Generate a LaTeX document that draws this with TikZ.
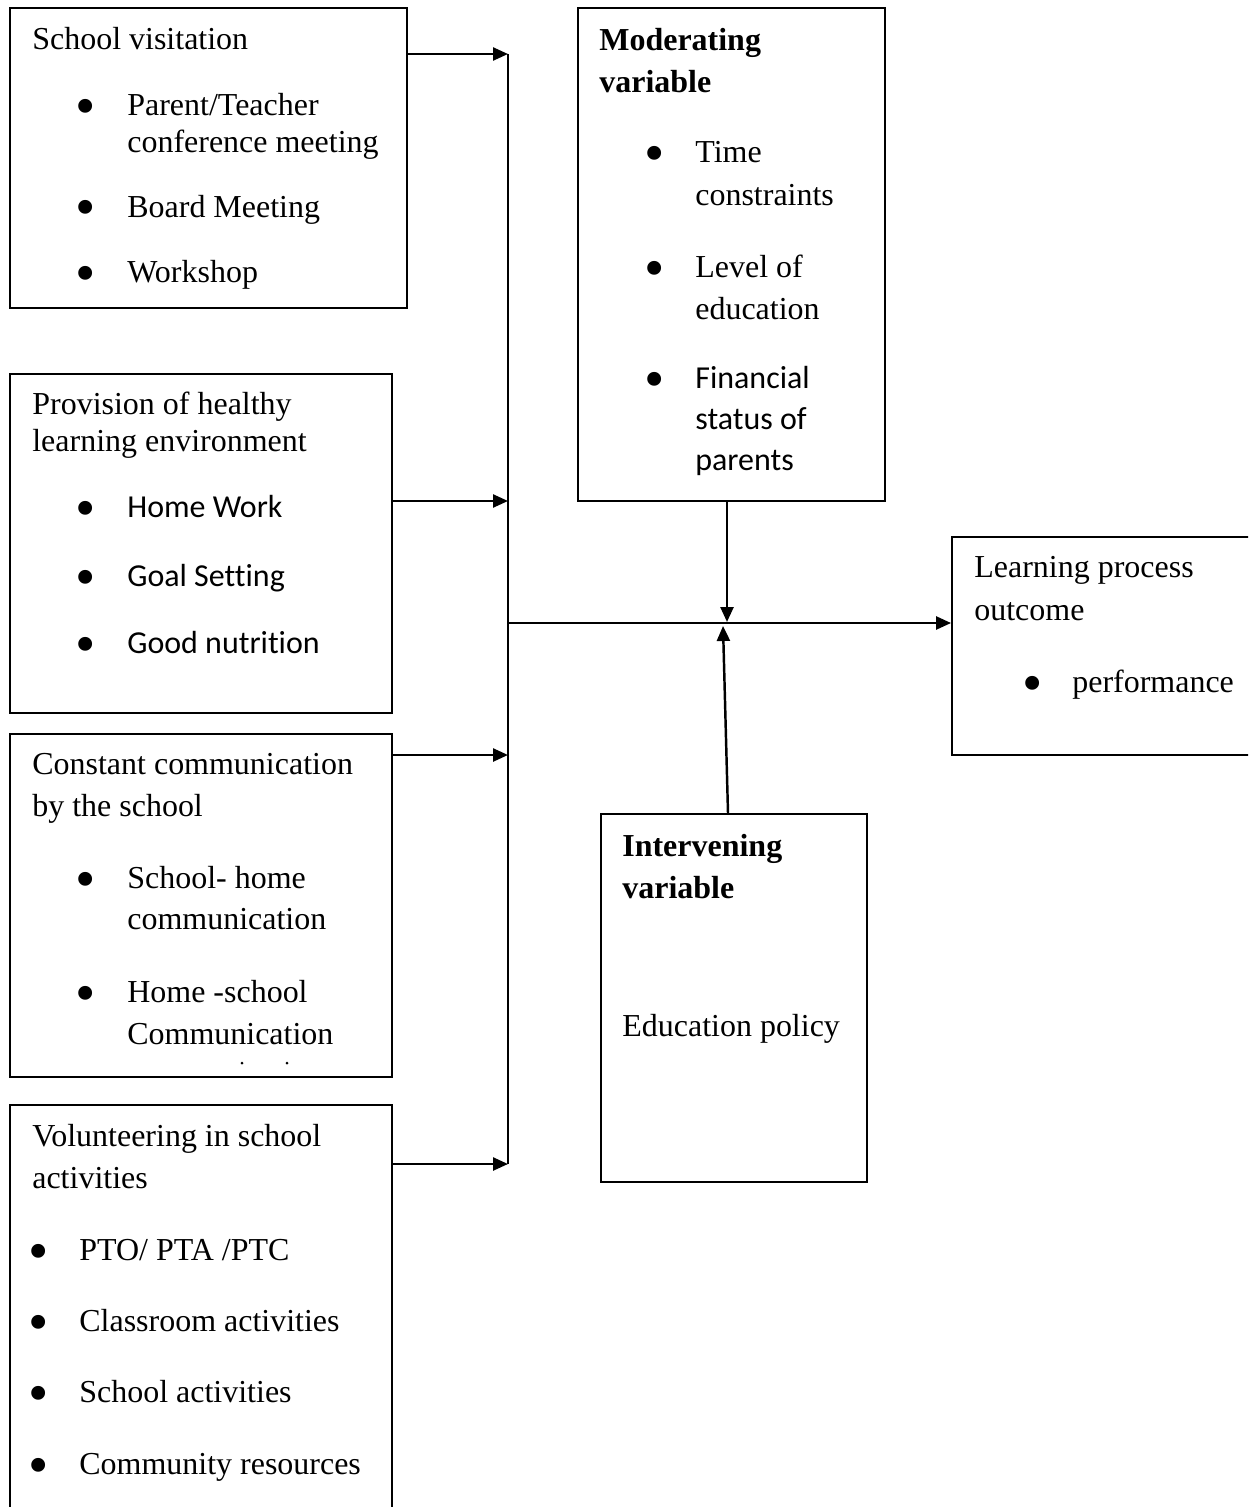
\documentclass[tikz,border=0pt]{standalone}
\usepackage{fontspec}
\setmainfont{Liberation Serif}
\newfontfamily\calfont[Ligatures=NoCommon]{Carlito}
\usetikzlibrary{arrows.meta}

\tikzset{
  box/.style={draw, line width=1.1pt, inner sep=0pt},
  txt/.style={anchor=base west, inner sep=0pt, font=\fontsize{18.2pt}{22pt}\selectfont},
  dot/.style={anchor=base, inner sep=0pt, font=\fontsize{33pt}{36pt}\selectfont},
  arr/.style={line width=1.4pt, -{Triangle[length=0.3cm, width=0.26cm]}},
}

\begin{document}
\begin{tikzpicture}[x=0.02cm, y=-0.02cm]
  \useasboundingbox (0,0) rectangle (1248,1507);
  \clip (0,0) rectangle (1248,1507);

  % boxes
  \node[box, minimum width=7.94cm, minimum height=6.0cm] (visit) at (208.5,158) {};
  \node[box, minimum width=7.64cm, minimum height=6.78cm] (health) at (201,543.5) {};
  \node[box, minimum width=7.64cm, minimum height=6.86cm] (comm) at (201,905.5) {};
  \node[box, minimum width=7.64cm, minimum height=8.7cm] (volun) at (201,1322.5) {};
  \node[box, minimum width=6.14cm, minimum height=9.86cm] (moder) at (731.5,254.5) {};
  \node[box, minimum width=5.32cm, minimum height=7.36cm] (interv) at (734,998) {};
  \node[box, minimum width=6.56cm, minimum height=4.36cm] (outcome) at (1116,646) {};

  % school visitation
  \node[txt] (visitT) at (32,50) {School visitation};
  \foreach \y/\t [count=\i] in {116/{Parent/Teacher}, 153/conference meeting, 217/Board Meeting, 282/Workshop}
    \node[txt] (visit\i) at (127,\y) {\t};
  \foreach \y [count=\i] in {116, 217, 282}
    \node[dot] (visitB\i) at (86,\y+10) {•};

  % healthy learning environment
  \node[txt] (healthT1) at (32,414) {Provision of healthy};
  \node[txt] (healthT2) at (32,451) {learning environment};
  \foreach \y/\t [count=\i] in {517/Home Work, 586/Goal Setting, 653/Good nutrition}{
    \node[txt, font=\fontsize{18.2pt}{22pt}\selectfont\calfont] (health\i) at (127,\y) {\t};
    \node[dot] (healthB\i) at (86,\y+10) {•};
  }

  % communication
  \node[txt] (commT1) at (32,774) {Constant communication};
  \node[txt] (commT2) at (32,816) {by the school};
  \foreach \y/\t [count=\i] in {888/School- home, 929/communication, 1002/Home -school, 1044/Communication}
    \node[txt] (comm\i) at (127,\y) {\t};
  \foreach \y [count=\i] in {888, 1002}
    \node[dot] (commB\i) at (86,\y+10) {•};
  \fill (242,1063) circle (0.03cm);
  \fill (287,1063) circle (0.03cm);

  % volunteering
  \node[txt] (volunT1) at (32,1146) {Volunteering in school};
  \node[txt] (volunT2) at (32,1188) {activities};
  \foreach \y/\t [count=\i] in {1260/{PTO/ PTA /PTC}, 1331/Classroom activities, 1402/School activities, 1474/Community resources}{
    \node[txt] (volun\i) at (79,\y) {\t};
    \node[dot] (volunB\i) at (39,\y+10) {•};
  }

  % moderating variable
  \node[txt, font=\fontsize{18.2pt}{22pt}\selectfont\bfseries] (moderT1) at (599,51) {Moderating};
  \node[txt, font=\fontsize{18.2pt}{22pt}\selectfont\bfseries] (moderT2) at (599,93) {variable};
  \foreach \y/\t [count=\i] in {163/Time, 206/constraints, 277/Level of, 319/education}
    \node[txt] (moder\i) at (695,\y) {\t};
  \foreach \y/\t [count=\i] in {388/Financial, 429/status of, 470/parents}
    \node[txt, font=\fontsize{18.2pt}{22pt}\selectfont\calfont] (moderC\i) at (695,\y) {\t};
  \foreach \y [count=\i] in {163, 277, 388}
    \node[dot] (moderB\i) at (655,\y+10) {•};

  % intervening variable
  \node[txt, font=\fontsize{18.2pt}{22pt}\selectfont\bfseries] (intervT1) at (622,856) {Intervening};
  \node[txt, font=\fontsize{18.2pt}{22pt}\selectfont\bfseries] (intervT2) at (622,898) {variable};
  \node[txt] (interv1) at (622,1036) {Education policy};

  % outcome
  \node[txt] (outcomeT1) at (974,577) {Learning process};
  \node[txt] (outcomeT2) at (974,620) {outcome};
  \node[dot] (outcomeB1) at (1033,702) {•};
  \node[txt] (outcome1) at (1072,692) {performance};

  % connectors
  \coordinate (b1) at (508,54);
  \coordinate (b2) at (508,501);
  \coordinate (b3) at (508,755);
  \coordinate (b4) at (508,1164);
  \coordinate (mid) at (508,623);
  \coordinate (top) at (727,622);
  \coordinate (bot) at (723,626);

  \draw[arr] (visit.east |- b1) -- (b1);
  \draw[arr] (health.east |- b2) -- (b2);
  \draw[arr] (comm.east |- b3) -- (b3);
  \draw[arr] (volun.east |- b4) -- (b4);
  \draw[line width=1.4pt] (b1) -- (b4);
  \draw[arr] (mid) -- (mid -| outcome.west);
  \draw[arr] (moder.south -| top) -- (top);
  \draw[arr] ([xshift=-0.12cm]interv.north) -- (bot);
\end{tikzpicture}
\end{document}
